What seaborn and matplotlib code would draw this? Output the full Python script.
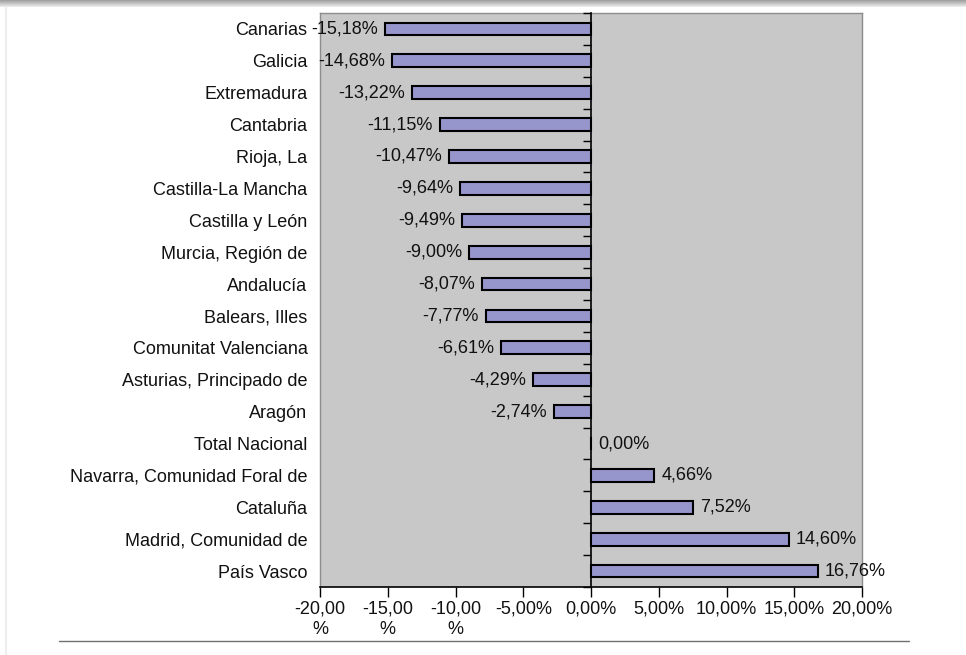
#!/usr/bin/env python3

import numpy as np
import pandas as pd
import seaborn as sns
from matplotlib import pyplot as plt
from matplotlib.lines import Line2D

# data
regiones = ["Canarias", "Galicia", "Extremadura", "Cantabria", "Rioja, La",
            "Castilla-La Mancha", "Castilla y León", "Murcia, Región de",
            "Andalucía", "Balears, Illes", "Comunitat Valenciana",
            "Asturias, Principado de", "Aragón", "Total Nacional",
            "Navarra, Comunidad Foral de", "Cataluña",
            "Madrid, Comunidad de", "País Vasco"]
variacion = [-15.18, -14.68, -13.22, -11.15, -10.47, -9.64, -9.49, -9.00,
             -8.07, -7.77, -6.61, -4.29, -2.74, 0.00, 4.66, 7.52, 14.60, 16.76]
x_ticks = [-20, -15, -10, -5, 0, 5, 10, 15, 20]
x_ticklabels = ["-20,00\n%", "-15,00\n%", "-10,00\n%", "-5,00%", "0,00%",
                "5,00%", "10,00%", "15,00%", "20,00%"]

FS = 13


def fmt_pct(v: float) -> str:
    return "{:.2f}%".format(v).replace(".", ",")


df = pd.DataFrame({"region": regiones, "valor": variacion})

sns.set_theme(style="white")
plt.rcParams["font.family"] = ["Liberation Sans", "DejaVu Sans"]

fig = plt.figure(figsize=(9.66, 6.55), dpi=100)
ax = fig.add_axes([0.3313, 0.1038, 0.5611, 0.8764])
ax.set_facecolor("#c8c8c8")

sns.barplot(data=df, x="valor", y="region", order=regiones, orient="h",
            color="#9696cc", saturation=1, width=0.40, edgecolor="black",
            linewidth=1.5, ax=ax)

n = len(regiones)
ax.set_xlim(-20, 20)
ax.set_ylim(n - 0.5, -0.5)
ax.set_xlabel("")
ax.set_ylabel("")

# category labels on the left, no tick marks
ax.set_yticks(range(n))
ax.set_yticklabels(regiones, fontsize=FS, color="#111111")
ax.tick_params(axis="y", length=0, pad=9)

# x axis ticks
ax.set_xticks(x_ticks)
ax.set_xticklabels(x_ticklabels, fontsize=FS, color="#111111",
                   linespacing=1.25, va="top")
ax.tick_params(axis="x", direction="out", length=7, width=1, color="black",
               pad=3, bottom=True)

for side in ["top", "left", "right"]:
    ax.spines[side].set_color("#8c8c8c")
    ax.spines[side].set_linewidth(1)
ax.spines["bottom"].set_color("black")
ax.spines["bottom"].set_linewidth(1.2)

# vertical axis at zero with ticks at category boundaries
ax2 = ax.twinx()
ax2.set_ylim(n - 0.5, -0.5)
ax2.spines["right"].set_position(("data", 0))
ax2.spines["right"].set_color("black")
ax2.spines["right"].set_linewidth(1.2)
for side in ["top", "left", "bottom"]:
    ax2.spines[side].set_visible(False)
ax2.set_yticks(np.arange(-0.5, n, 1.0))
ax2.set_yticklabels([])
ax2.tick_params(axis="y", direction="in", length=6, width=1, color="black")

# data labels
for i, v in enumerate(variacion):
    if v < 0:
        ax.annotate(fmt_pct(v), (v, i), xytext=(-5, 0),
                    textcoords="offset points", ha="right", va="center",
                    fontsize=FS, color="#111111", annotation_clip=False)
    else:
        ax.annotate(fmt_pct(v), (v, i), xytext=(5, 0),
                    textcoords="offset points", ha="left", va="center",
                    fontsize=FS, color="#111111", annotation_clip=False)

# page decorations: gradient bar on top, faint left edge, bottom rule
top = fig.add_axes([0, 1 - 7 / 655, 1, 7 / 655])
grad = np.linspace(0.62, 0.93, 20).reshape(-1, 1)
top.imshow(grad, aspect="auto", cmap="gray", vmin=0, vmax=1,
           extent=[0, 1, 0, 1])
top.set_axis_off()

fig.add_artist(Line2D([6 / 966, 6 / 966], [0, 1 - 7 / 655],
                      transform=fig.transFigure, color="#eeeeee", lw=1.5))
fig.add_artist(Line2D([59 / 966, 909 / 966], [1 - 641 / 655, 1 - 641 / 655],
                      transform=fig.transFigure, color="#707070", lw=1))

fig.savefig("out.png", dpi=100)
